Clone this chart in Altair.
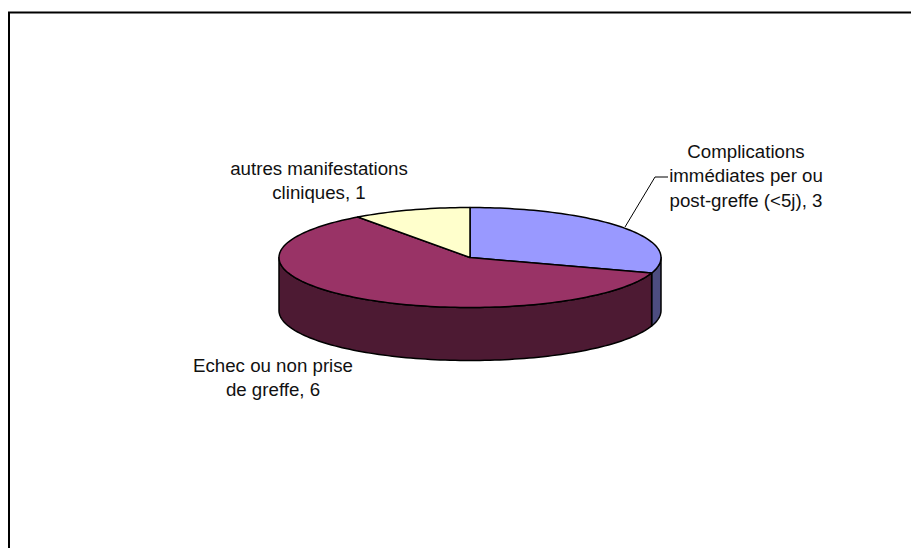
import math
import altair as alt
import pandas as pd

# Values and labels
categories = ["Complications immédiates per ou post-greffe (<5j)", "Echec ou non prise de greffe", "autres manifestations cliniques"]
values = [3, 6, 1]
top_colors = ["#9999FF", "#993366", "#FFFFCC"]
side_colors = ["#4D4D80", "#4D1A33", "#808066"]

label_lines = ["Complications", "immédiates per ou", "post-greffe (<5j), 3",
               "autres manifestations", "cliniques, 1",
               "Echec ou non prise", "de greffe, 6"]
label_x = [746, 746, 746, 319, 319, 273, 273]
label_y = [152, 176, 201, 169, 193, 366, 390]

leader_x = [668, 655, 625]
leader_y = [177, 177, 227]

frame_x = [919, 9, 9]
frame_y = [12.5, 12.5, 548]

# Pie geometry, in picture pixels
CX, CY, RX, RY, DEPTH = 470, 257.5, 191, 50, 53
W, H = 903, 540

x_scale = alt.Scale(domain=[8, 8 + W], range=[0, W], nice=False, zero=False)
y_scale = alt.Scale(domain=[8, 8 + H], range=[0, H], nice=False, zero=False)
X = alt.X("x:Q", scale=x_scale, axis=None)
Y = alt.Y("y:Q", scale=y_scale, axis=None)


def rim(a0, a1, dy=0.0):
    n = max(2, int(abs(a1 - a0) / 1.5))
    out = []
    for k in range(n + 1):
        a = math.radians(a0 + (a1 - a0) * k / n)
        out.append((CX + RX * math.sin(a), CY - RY * math.cos(a) + dy))
    return out


def poly(points, fill):
    df = pd.DataFrame({"x": [p[0] for p in points], "y": [p[1] for p in points],
                       "i": list(range(len(points)))})
    return alt.Chart(df).mark_line(
        interpolate="linear-closed", fill=fill, stroke="black", strokeWidth=1.5, strokeJoin="round"
    ).encode(x=X, y=Y, order="i:Q")


total = sum(values)
layers = []
start = 0.0
spans = []
for v in values:
    end = start + 360.0 * v / total
    spans.append((start, end))
    start = end

# Side walls: only the front half of the rim (90 to 270 degrees) shows
for (a0, a1), col in zip(spans, side_colors):
    lo, hi = max(a0, 90), min(a1, 270)
    if lo < hi:
        top = rim(lo, hi)
        bottom = rim(lo, hi, DEPTH)
        layers.append(poly(top + bottom[::-1], col))

# Top faces
for (a0, a1), col in zip(spans, top_colors):
    layers.append(poly([(CX, CY)] + rim(a0, a1), col))

leader = alt.Chart(pd.DataFrame({"x": leader_x, "y": leader_y, "i": [0, 1, 2]})).mark_line(
    color="black", strokeWidth=1).encode(x=X, y=Y, order="i:Q")
frame = alt.Chart(pd.DataFrame({"x": frame_x, "y": frame_y, "i": [0, 1, 2]})).mark_line(
    color="black", strokeWidth=2, clip=True).encode(x=X, y=Y, order="i:Q")
labels = alt.Chart(pd.DataFrame({"x": label_x, "y": label_y, "t": label_lines})).mark_text(
    font="Liberation Sans", fontSize=18.7, color="#111111", align="center", baseline="middle"
).encode(x=X, y=Y, text="t:N")

chart = alt.layer(frame, *layers, leader, labels).properties(
    width=W, height=H, padding=0, autosize=alt.AutoSizeParams(type="none"), background="white"
).configure_view(stroke=None)

chart.save("out.html", embed_options={"renderer": "svg", "actions": False})
